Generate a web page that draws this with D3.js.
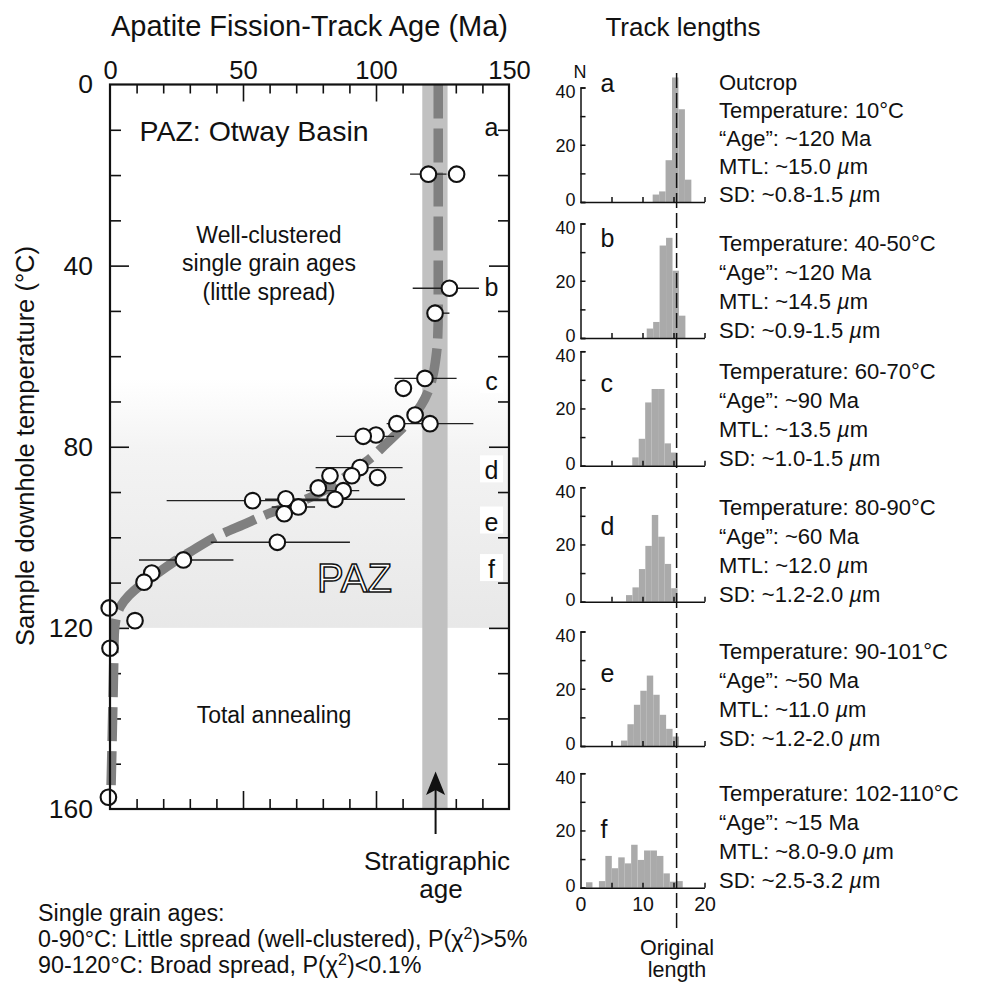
<!DOCTYPE html>
<html>
<head>
<meta charset="utf-8">
<script src="https://cdn.jsdelivr.net/npm/d3@7"></script>
<style>
body { margin: 0; background: #fff; }
text { font-family: "Liberation Sans", Arial, Helvetica, sans-serif; fill: #111; }
</style>
</head>
<body>
<div id="chart"></div>
<script>
// ---- data ----
const ageTicks = [0, 50, 100, 150];
const tempTicks = [0, 40, 80, 120, 160];

// single grain / sample points: age (Ma), temperature (°C), error bar ends (Ma, null = none)
const sampleAge  = [119.7, 130.3, 127.6, 122.2, 118.4, 110.3, 114.7, 120.3, 107.8, 100.0,
                    95.2, 94.0, 82.7, 90.9, 100.6, 78.3, 87.7, 84.6, 53.6, 66.1,
                    70.8, 65.5, 62.9, 27.6, 15.7, 12.8, -0.3, 9.4, 0.0, -0.6];
const sampleTemp = [19.8, 19.8, 45.0, 50.5, 64.9, 67.1, 73.0, 74.9, 74.9, 77.4,
                    77.7, 84.6, 86.4, 86.4, 86.8, 89.1, 89.7, 91.6, 91.9, 91.5,
                    93.3, 94.8, 101.1, 105.0, 107.9, 109.9, 115.6, 118.4, 124.5, 157.4];
const errLo = [112.8, null, 113.8, 122.2, 106.9, null, null, 104.0, null, null,
               85.0, 77.3, null, null, null, null, 73.7, 58.3, 21.3, null,
               60.8, null, 37.9, 10.9, null, null, null, null, null, null];
const errHi = [126.5, null, 138.7, 127.6, 130.3, null, null, 136.6, null, null,
               106.8, 110.0, null, null, null, null, 93.7, 110.9, 86.0, null,
               77.1, null, 90.2, 46.4, null, null, null, null, null, null];

// dashed PAZ trend curve
const curveAge  = [123.4, 123.4, 123.2, 122.6, 121.5, 119.8, 117.0, 113.0, 108.0, 103.0,
                   98.0, 91.0, 84.0, 76.0, 68.0, 60.8, 50.1, 40.1, 31.3, 23.5,
                   16.3, 11.0, 7.2, 4.0, 2.2, 1.6, 1.4, 0.9, 0.4];
const curveTemp = [0, 50, 56, 60, 64, 67.5, 70.8, 74, 77, 79.8,
                   82.5, 85.5, 88.5, 91, 93, 94.5, 97.2, 99.8, 102.8, 105.6,
                   108.6, 110.8, 112.8, 115.2, 118.2, 121.5, 128, 142, 155];

const stratAge = [117.4, 126.9];   // stratigraphic age band (Ma)
const stratArrowAge = 122.4;
const pazTemp = [65, 120];         // shaded partial annealing zone

const sideLabels = ["a", "b", "c", "d", "e", "f"];
const sideLabelTemp = [11.3, 46.8, 67.5, 87.2, 98.5, 109.0];

// track length histograms (µm, N)
const binWidth = 1.04;
const histStart = [11.64, 10.68, 8.35, 7.34, 6.53, 0.89];
const histCounts = [
  [2.6, 3.7, 14.6, 43.5, 32.4, 7.8],
  [3.3, 5.6, 32.3, 35.0, 23.5, 7.8],
  [2.9, 9.4, 22.1, 26.8, 26.8, 7.8, 4.6],
  [2.3, 5.0, 11.4, 19.5, 30.3, 22.7, 13.2, 4.7],
  [1.9, 7.6, 14.4, 19.3, 24.6, 17.9, 10.9, 6.0, 3.3],
  [1.9, 0, 2.3, 11.1, 6.8, 10.6, 8.5, 15.0, 9.7, 13.0, 13.0, 11.1, 5.0, 2.1, 2.3]
];
const originalLength = 15.5;
const histText = [
  ["Outcrop", "Temperature: 10°C", "“Age”: ~120 Ma", "MTL: ~15.0 |µ|m", "SD: ~0.8-1.5 |µ|m"],
  ["Temperature: 40-50°C", "“Age”: ~120 Ma", "MTL: ~14.5 |µ|m", "SD: ~0.9-1.5 |µ|m"],
  ["Temperature: 60-70°C", "“Age”: ~90 Ma", "MTL: ~13.5 |µ|m", "SD: ~1.0-1.5 |µ|m"],
  ["Temperature: 80-90°C", "“Age”: ~60 Ma", "MTL: ~12.0 |µ|m", "SD: ~1.2-2.0 |µ|m"],
  ["Temperature: 90-101°C", "“Age”: ~50 Ma", "MTL: ~11.0 |µ|m", "SD: ~1.2-2.0 |µ|m"],
  ["Temperature: 102-110°C", "“Age”: ~15 Ma", "MTL: ~8.0-9.0 |µ|m", "SD: ~2.5-3.2 |µ|m"]
];

// ---- drawing ----
const W = 987, H = 983;
const svg = d3.select("#chart").append("svg").attr("width", W).attr("height", H);

const x = d3.scaleLinear().domain([0, 150]).range([110, 509]);
const y = d3.scaleLinear().domain([0, 160]).range([84.5, 809]);

const defs = svg.append("defs");
const grad = defs.append("linearGradient").attr("id", "pazGrad")
  .attr("x1", 0).attr("y1", 0).attr("x2", 0).attr("y2", 1);
grad.append("stop").attr("offset", "0%").attr("stop-color", "#ffffff");
grad.append("stop").attr("offset", "30%").attr("stop-color", "#f3f3f3");
grad.append("stop").attr("offset", "100%").attr("stop-color", "#e8e8e8");

svg.append("rect")
  .attr("x", x(0)).attr("y", y(pazTemp[0]))
  .attr("width", x(150) - x(0)).attr("height", y(pazTemp[1]) - y(pazTemp[0]))
  .attr("fill", "url(#pazGrad)");

function cleanAxis(g) {
  g.select(".domain").remove();
  g.selectAll("line").attr("stroke", "#111").attr("stroke-width", 1.6);
}
const minorAge = d3.range(10, 150, 10).filter(d => d % 50 != 0);
const minorTemp = d3.range(10, 160, 10).filter(d => d % 40 != 0);

// frame ticks (inside)
svg.append("g").attr("transform", `translate(0,${y(0)})`)
  .call(d3.axisBottom(x).tickValues(minorAge).tickSize(9).tickFormat("")).call(cleanAxis);
svg.append("g").attr("transform", `translate(0,${y(0)})`)
  .call(d3.axisBottom(x).tickValues([50, 100]).tickSize(17).tickFormat("")).call(cleanAxis);
svg.append("g").attr("transform", `translate(0,${y(160)})`)
  .call(d3.axisTop(x).tickValues(minorAge).tickSize(10).tickFormat("")).call(cleanAxis);
svg.append("g").attr("transform", `translate(0,${y(160)})`)
  .call(d3.axisTop(x).tickValues([50, 100]).tickSize(18).tickFormat("")).call(cleanAxis);
svg.append("g").attr("transform", `translate(${x(0)},0)`)
  .call(d3.axisRight(y).tickValues(minorTemp).tickSize(11).tickFormat("")).call(cleanAxis);
svg.append("g").attr("transform", `translate(${x(0)},0)`)
  .call(d3.axisRight(y).tickValues([40, 80, 120]).tickSize(19).tickFormat("")).call(cleanAxis);
svg.append("g").attr("transform", `translate(${x(150)},0)`)
  .call(d3.axisLeft(y).tickValues(minorTemp).tickSize(11).tickFormat("")).call(cleanAxis);
svg.append("g").attr("transform", `translate(${x(150)},0)`)
  .call(d3.axisLeft(y).tickValues([40, 80, 120]).tickSize(20).tickFormat("")).call(cleanAxis);

// tick labels
const topLab = svg.append("g").attr("transform", `translate(0,${y(0)})`)
  .call(d3.axisTop(x).tickValues(ageTicks).tickSize(0).tickPadding(6));
topLab.select(".domain").remove();
topLab.selectAll("text").attr("font-size", 25.5).attr("font-family", null).attr("fill", "#111");
const leftLab = svg.append("g").attr("transform", `translate(${x(0)},0)`)
  .call(d3.axisLeft(y).tickValues(tempTicks).tickSize(0).tickPadding(17));
leftLab.select(".domain").remove();
leftLab.selectAll("text").attr("font-size", 26.5).attr("font-family", null).attr("fill", "#111");

// stratigraphic age band
svg.append("rect")
  .attr("x", x(stratAge[0])).attr("y", y(0))
  .attr("width", x(stratAge[1]) - x(stratAge[0])).attr("height", y(160) - y(0))
  .attr("fill", "#c1c1c1");

// dashed trend curve
svg.append("path")
  .datum(curveAge.map((a, i) => [a, curveTemp[i]]))
  .attr("fill", "none").attr("stroke", "#808080").attr("stroke-width", 9.5)
  .attr("stroke-dasharray", "34,10")
  .attr("d", d3.line().x(d => x(d[0])).y(d => y(d[1])).curve(d3.curveMonotoneY));

// error bars
const pts = sampleAge.map((a, i) => ({age: a, temp: sampleTemp[i], lo: errLo[i], hi: errHi[i]}));
svg.append("g").selectAll("line")
  .data(pts.filter(d => d.lo != null))
  .enter().append("line")
  .attr("x1", d => x(d.lo)).attr("x2", d => x(d.hi))
  .attr("y1", d => y(d.temp)).attr("y2", d => y(d.temp))
  .attr("stroke", "#222").attr("stroke-width", 1.4);

svg.append("g").selectAll("circle")
  .data(pts).enter().append("circle")
  .attr("cx", d => x(d.age)).attr("cy", d => y(d.temp)).attr("r", 7.8)
  .attr("fill", "#fff").attr("stroke", "#111").attr("stroke-width", 2.1);

// side labels a-f
sideLabels.forEach((l, i) => {
  if (i >= 2) {
    svg.append("rect").attr("x", 480).attr("y", y(sideLabelTemp[i]) - 24)
      .attr("width", 23).attr("height", 27).attr("fill", "#fff");
  }
  svg.append("text").attr("x", 491.5).attr("y", y(sideLabelTemp[i]))
    .attr("text-anchor", "middle").attr("font-size", 25).text(l);
});

// frame
svg.append("rect").attr("x", x(0)).attr("y", y(0))
  .attr("width", x(150) - x(0)).attr("height", y(160) - y(0))
  .attr("fill", "none").attr("stroke", "#111").attr("stroke-width", 2.2);

// texts in the main panel
svg.append("text").attr("x", 309.5).attr("y", 36).attr("text-anchor", "middle")
  .attr("font-size", 29).text("Apatite Fission-Track Age (Ma)");
svg.append("text").attr("transform", "translate(34,446) rotate(-90)")
  .attr("text-anchor", "middle").attr("font-size", 25.5).text("Sample downhole temperature (°C)");
svg.append("text").attr("x", 139.5).attr("y", 141).attr("font-size", 28.5).text("PAZ: Otway Basin");
["Well-clustered", "single grain ages", "(little spread)"].forEach((t, i) => {
  svg.append("text").attr("x", 269).attr("y", 243 + i * 28.3).attr("text-anchor", "middle")
    .attr("font-size", 23).text(t);
});
svg.append("text").attr("x", 274).attr("y", 722.5).attr("text-anchor", "middle")
  .attr("font-size", 23).text("Total annealing");
svg.append("text").attr("x", 354.5).attr("y", 592).attr("text-anchor", "middle")
  .attr("font-size", 40).style("fill", "#fff").attr("stroke", "#111").attr("stroke-width", 1.5)
  .text("PAZ");

// stratigraphic arrow
const ax = x(stratArrowAge);
svg.append("line").attr("x1", ax).attr("x2", ax).attr("y1", 790).attr("y2", 834)
  .attr("stroke", "#111").attr("stroke-width", 2);
svg.append("path").attr("d", `M${ax},771.5 L${ax + 9.5},795 L${ax},790 L${ax - 9.5},795 Z`)
  .attr("fill", "#111");
svg.append("text").attr("x", 437).attr("y", 870).attr("text-anchor", "middle")
  .attr("font-size", 26).text("Stratigraphic");
svg.append("text").attr("x", 441).attr("y", 898).attr("text-anchor", "middle")
  .attr("font-size", 26).text("age");

// bottom notes
const notes = svg.append("g").attr("font-size", 23.3);
notes.append("text").attr("x", 38).attr("y", 921).text("Single grain ages:");
const n2 = notes.append("text").attr("x", 38).attr("y", 947);
n2.append("tspan").text("0-90°C: Little spread (well-clustered), P(χ");
n2.append("tspan").attr("font-size", 16).attr("dy", -8).text("2");
n2.append("tspan").attr("dy", 8).text(")>5%");
const n3 = notes.append("text").attr("x", 38).attr("y", 973);
n3.append("tspan").text("90-120°C: Broad spread, P(χ");
n3.append("tspan").attr("font-size", 16).attr("dy", -8).text("2");
n3.append("tspan").attr("dy", 8).text(")<0.1%");

// ---- track length histograms ----
svg.append("text").attr("x", 683).attr("y", 36).attr("text-anchor", "middle")
  .attr("font-size", 26).text("Track lengths");

const xH = d3.scaleLinear().domain([0, 20]).range([580.5, 704.5]);
const panelBottom = [202, 338, 465.7, 601.7, 746, 887.7];
const panelHeight = 114.5;
const letterY = [91.7, 246.7, 391.7, 535, 681.7, 838.3];
const lineGap = [28, 29, 29, 29, 29, 29];

histCounts.forEach((counts, p) => {
  const b = panelBottom[p];
  const yH = d3.scaleLinear().domain([0, 40]).range([b, b - panelHeight]);
  const g = svg.append("g");

  g.selectAll("rect").data(counts).enter().append("rect")
    .attr("x", (d, k) => xH(histStart[p] + k * binWidth))
    .attr("width", xH(binWidth) - xH(0))
    .attr("y", d => yH(d)).attr("height", d => b - yH(d))
    .attr("fill", "#aaaaaa");

  const la = g.append("g").attr("transform", `translate(${xH(0)},0)`)
    .call(d3.axisRight(yH).tickValues([0, 10, 20, 30, 40]).tickSize(5).tickSizeOuter(5).tickFormat(""));
  la.selectAll("line, path").attr("stroke", "#111").attr("stroke-width", 1.5);

  const ba = g.append("g").attr("transform", `translate(0,${b})`)
    .call(d3.axisTop(xH).tickValues([5, 10, 15, 20]).tickSize(5).tickSizeOuter(0).tickFormat(""));
  ba.selectAll("line, path").attr("stroke", "#111").attr("stroke-width", 1.5);

  const ll = g.append("g").attr("transform", `translate(${xH(0)},0)`)
    .call(d3.axisLeft(yH).tickValues([0, 20, 40]).tickSize(0).tickPadding(5));
  ll.select(".domain").remove();
  ll.selectAll("text").attr("font-size", 18).attr("font-family", null).attr("fill", "#111")
    .attr("dy", d => d == 40 ? "0.58em" : d == 0 ? "0.22em" : "0.35em");

  g.append("text").attr("x", 600.5).attr("y", letterY[p]).attr("font-size", 25).text(sideLabels[p]);

  histText[p].forEach((line, k) => {
    const t = g.append("text").attr("x", 719)
      .attr("y", b - (histText[p].length - 1 - k) * lineGap[p]).attr("font-size", 22);
    line.split("|").forEach((part, j) => {
      const s = t.append("tspan").text(part);
      if (j == 1) s.attr("font-style", "italic");
    });
  });

  if (p == histCounts.length - 1) {
    const xl = g.append("g").attr("transform", `translate(0,${b})`)
      .call(d3.axisBottom(xH).tickValues([0, 10, 20]).tickSize(0).tickPadding(9));
    xl.select(".domain").remove();
    xl.selectAll("text").attr("font-size", 19.5).attr("font-family", null).attr("fill", "#111");
  }
});

svg.append("text").attr("x", 580).attr("y", 78).attr("text-anchor", "middle")
  .attr("font-size", 18).text("N");

// original length reference line
svg.append("line").attr("x1", xH(originalLength)).attr("x2", xH(originalLength))
  .attr("y1", 73).attr("y2", 933)
  .attr("stroke", "#111").attr("stroke-width", 1.5).attr("stroke-dasharray", "15,5");
svg.append("text").attr("x", 677).attr("y", 955).attr("text-anchor", "middle")
  .attr("font-size", 21.5).text("Original");
svg.append("text").attr("x", 677).attr("y", 977).attr("text-anchor", "middle")
  .attr("font-size", 21.5).text("length");
</script>
</body>
</html>
